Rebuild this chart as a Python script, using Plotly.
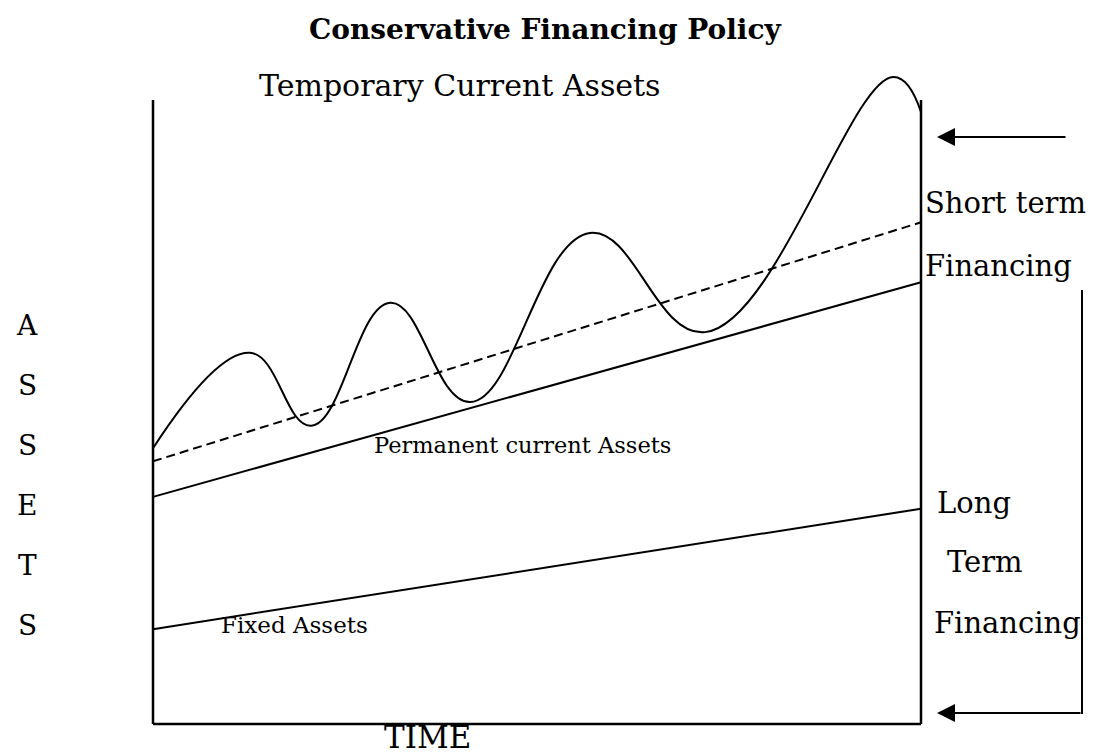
import plotly.graph_objects as go

W, H = 1095, 756

# ---- data (chart units: time 0..10, assets 0..~10.4) ----
time_ends = [0, 10]
fixed_assets = [1.52, 3.45]
permanent_current = [3.64, 7.08]
short_term_line = [4.21, 8.04]

# temporary current assets: start, peaks/troughs, end
wave_t = [0.00, 1.26, 2.06, 3.09, 4.13, 5.69, 7.19, 9.64, 10.00]
wave_v = [4.42, 5.95, 4.78, 6.75, 5.16, 7.87, 6.28, 10.37, 9.81]

axis_letters = ["A", "S", "S", "E", "T", "S"]

FONT = "DejaVu Serif"


def px(x):
    return x / W


def py(y):
    return 1 - y / H


fig = go.Figure()

line_style = dict(color="black", width=2)
fig.add_trace(go.Scatter(x=time_ends, y=fixed_assets, mode="lines", line=line_style,
                         hoverinfo="skip"))
fig.add_trace(go.Scatter(x=time_ends, y=permanent_current, mode="lines", line=line_style,
                         hoverinfo="skip"))
fig.add_trace(go.Scatter(x=time_ends, y=short_term_line, mode="lines",
                         line=dict(color="black", width=2, dash="9px,5px"),
                         hoverinfo="skip"))
fig.add_trace(go.Scatter(x=wave_t, y=wave_v, mode="lines",
                         line=dict(color="black", width=2, shape="spline", smoothing=1.2),
                         hoverinfo="skip"))

# box (left, bottom, right)
box = dict(type="line", xref="x", yref="y", line=dict(color="black", width=2.5))
fig.add_shape(**box, x0=0, x1=0, y0=0, y1=10)
fig.add_shape(**box, x0=0, x1=10, y0=0, y1=0)
fig.add_shape(**box, x0=10, x1=10, y0=0, y1=10)

# bracket on the right
fig.add_shape(type="line", xref="paper", yref="paper",
              x0=px(1082), x1=px(1082), y0=py(290), y1=py(714),
              line=dict(color="black", width=2))

anns = []


def txt(t, x, y, size, xanchor="center", bold=False):
    anns.append(dict(text=f"<b>{t}</b>" if bold else t, x=px(x), y=py(y),
                     xref="paper", yref="paper", xanchor=xanchor, yanchor="middle",
                     showarrow=False, font=dict(family=FONT, size=size, color="black")))


txt("Conservative Financing Policy", 545, 29, 28, bold=True)
txt("Temporary Current Assets", 459, 85, 30)
txt("Short term", 923, 203, 29, xanchor="left")
txt("Financing", 923, 266, 29, xanchor="left")
txt("Long", 935, 503, 29, xanchor="left")
txt("Term", 945, 562, 29, xanchor="left")
txt("Financing", 932, 623, 29, xanchor="left")
txt("Permanent current Assets", 372, 445, 22.5, xanchor="left")
txt("Fixed Assets", 219, 625, 23, xanchor="left")
txt("TIME", 427, 737, 31)
for i, ch in enumerate(axis_letters):
    txt(ch, 27, 326 + i * 59.8, 28)

# arrows
for (hx, hy, tx) in [(937, 137, 1067), (937, 713, 1082)]:
    anns.append(dict(x=px(hx), y=py(hy), xref="paper", yref="paper",
                     ax=tx - hx, ay=0, axref="pixel", ayref="pixel",
                     showarrow=True, arrowhead=2, arrowsize=1.8, arrowwidth=2,
                     arrowcolor="black", text=""))

fig.update_layout(
    width=W, height=H,
    margin=dict(l=0, r=0, t=0, b=0),
    paper_bgcolor="white", plot_bgcolor="white",
    showlegend=False,
    annotations=anns,
    xaxis=dict(range=[-0.5, 10.5], domain=[114.6 / W, 959.4 / W],
               visible=False, fixedrange=True),
    yaxis=dict(range=[-0.3, 10.641], domain=[13.28 / H, 696 / H],
               visible=False, fixedrange=True),
)

fig.write_html("out.html",
               config={"displayModeBar": False},
               post_script="document.body.style.margin='0px';document.body.style.overflow='hidden';")
